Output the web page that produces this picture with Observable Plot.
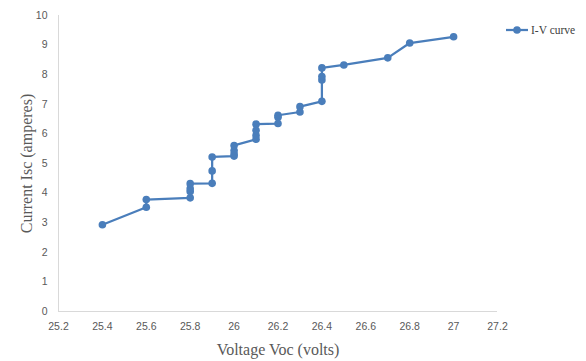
<!DOCTYPE html>
<html>
<head>
<meta charset="utf-8">
<script src="https://cdn.jsdelivr.net/npm/d3@7"></script>
<script src="https://cdn.jsdelivr.net/npm/@observablehq/plot@0.6"></script>
<style>
  html, body { margin: 0; padding: 0; background: #fff; }
  #wrap { position: relative; width: 586px; height: 361px; }
  #legend { position: absolute; left: 505px; top: 23px; font-family: "Liberation Serif", serif; font-size: 11.5px; color: #404040; display: flex; align-items: center; }
</style>
</head>
<body>
<div id="wrap">
  <div id="chart"></div>
  <div id="legend">
    <svg width="24" height="14"><line x1="1" y1="7" x2="23" y2="7" stroke="#4A7EBB" stroke-width="2.25"/><circle cx="12" cy="7" r="3.8" fill="#4A7EBB"/></svg>
    <span style="margin-left:2px">I-V curve</span>
  </div>
</div>
<script>
const voltage = [25.4, 25.6, 25.6, 25.8, 25.8, 25.8, 25.8, 25.9, 25.9, 25.9, 26.0, 26.0, 26.0, 26.0, 26.1, 26.1, 26.1, 26.1, 26.2, 26.2, 26.2, 26.3, 26.3, 26.4, 26.4, 26.4, 26.4, 26.5, 26.7, 26.8, 27.0];
const current = [2.93, 3.52, 3.78, 3.84, 4.05, 4.15, 4.32, 4.33, 4.75, 5.22, 5.25, 5.32, 5.44, 5.61, 5.82, 5.95, 6.12, 6.33, 6.35, 6.56, 6.63, 6.74, 6.92, 7.10, 7.82, 7.94, 8.23, 8.33, 8.57, 9.07, 9.28];
const xTicks = [25.2, 25.4, 25.6, 25.8, 26, 26.2, 26.4, 26.6, 26.8, 27, 27.2];
const yTicks = [0, 1, 2, 3, 4, 5, 6, 7, 8, 9, 10];

const data = voltage.map((v, i) => ({v, c: current[i]}));
const blue = "#4A7EBB";

const chart = Plot.plot({
  width: 586,
  height: 361,
  marginLeft: 58,
  marginRight: 89,
  marginTop: 15,
  marginBottom: 50,
  style: { fontFamily: "'Liberation Sans', sans-serif", fontSize: "10.5px", color: "#595959", background: "#fff" },
  x: { domain: [25.2, 27.2], ticks: xTicks, tickSize: 0, tickPadding: 11, tickFormat: d => String(+d.toFixed(1)), label: null },
  y: { domain: [0, 10], ticks: yTicks, tickSize: 0, tickPadding: 11, label: null },
  marks: [
    Plot.ruleY([0], { stroke: "#d9d9d9", strokeWidth: 1 }),
    Plot.ruleX([25.2], { stroke: "#d9d9d9", strokeWidth: 1 }),
    Plot.line(data, { x: "v", y: "c", stroke: blue, strokeWidth: 2.25 }),
    Plot.dot(data, { x: "v", y: "c", fill: blue, r: 3.8 }),
    Plot.text(["Voltage Voc (volts)"], { frameAnchor: "bottom", textAnchor: "middle", lineAnchor: "middle", dy: 38, fontFamily: "'Liberation Serif', serif", fontSize: 16, fill: "#595959" }),
    Plot.text(["Current Isc (amperes)"], { frameAnchor: "left", textAnchor: "middle", lineAnchor: "middle", dx: -32, rotate: -90, fontFamily: "'Liberation Serif', serif", fontSize: 16, fill: "#595959" })
  ]
});
document.getElementById("chart").appendChild(chart);
</script>
</body>
</html>
